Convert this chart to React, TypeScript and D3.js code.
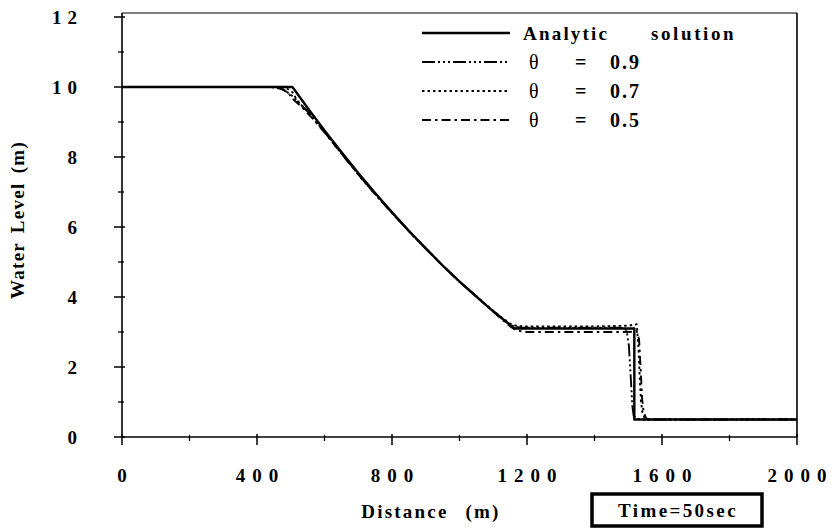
import React from "react";
import * as d3 from "d3";

const W = 834;
const H = 528;

// Analytic solution (distance m, water level m)
const analyticX = [0, 505, 550, 600, 650, 700, 750, 800, 850, 900, 950, 1000, 1050, 1100, 1150, 1163, 1518, 1518, 2000];
const analyticY = [10, 10, 9.4, 8.76, 8.14, 7.54, 6.97, 6.42, 5.89, 5.39, 4.9, 4.44, 4.01, 3.59, 3.2, 3.1, 3.1, 0.5, 0.5];

// theta = 0.9
const theta09X = [0, 440, 470, 490, 510, 530, 560, 600, 650, 700, 750, 800, 850, 900, 950, 1000, 1050, 1100, 1140, 1160, 1180, 1220, 1300, 1400, 1480, 1495, 1502, 1508, 1512, 1516, 1522, 1535, 2000];
const theta09Y = [10, 10, 9.95, 9.85, 9.7, 9.5, 9.2, 8.72, 8.1, 7.5, 6.94, 6.4, 5.88, 5.38, 4.9, 4.44, 4.02, 3.6, 3.28, 3.16, 3.12, 3.12, 3.12, 3.12, 3.12, 3.05, 2.6, 1.6, 0.9, 0.6, 0.55, 0.5, 0.5];

// theta = 0.7
const theta07X = [0, 470, 490, 505, 520, 550, 600, 650, 700, 750, 800, 850, 900, 950, 1000, 1050, 1100, 1150, 1170, 1200, 1300, 1400, 1500, 1525, 1530, 1534, 1538, 1542, 1548, 1556, 2000];
const theta07Y = [10, 10, 9.95, 9.85, 9.6, 9.3, 8.72, 8.12, 7.52, 6.95, 6.41, 5.89, 5.39, 4.9, 4.45, 4.02, 3.6, 3.24, 3.17, 3.16, 3.16, 3.16, 3.18, 3.22, 2.6, 1.7, 1.0, 0.7, 0.55, 0.5, 0.5];

// theta = 0.5
const theta05X = [0, 460, 480, 495, 510, 530, 560, 600, 650, 700, 750, 800, 850, 900, 950, 1000, 1050, 1100, 1150, 1170, 1200, 1300, 1400, 1500, 1525, 1532, 1537, 1541, 1545, 1552, 1560, 2000];
const theta05Y = [10, 10, 9.92, 9.8, 9.62, 9.45, 9.15, 8.7, 8.1, 7.5, 6.93, 6.4, 5.88, 5.38, 4.9, 4.44, 4.01, 3.58, 3.16, 3.04, 3.0, 3.0, 3.0, 3.0, 3.02, 2.8, 1.9, 1.1, 0.75, 0.55, 0.5, 0.5];

const xMajor = [0, 400, 800, 1200, 1600, 2000];
const xMajorLabels = ["0", "400", "800", "1200", "1600", "2000"];
const xMinor = [200, 600, 1000, 1400, 1800];
const yMajor = [0, 2, 4, 6, 8, 10, 12];
const yMajorLabels = ["0", "2", "4", "6", "8", "10", "12"];
const yMinor = [1, 3, 5, 7, 9, 11];

const legendNames = ["Analytic", "0.9", "0.7", "0.5"];

const FONT = "'Liberation Serif', 'Times New Roman', serif";

export default function App() {
  const x = d3.scaleLinear().domain([0, 2000]).range([122, 797]);
  const y = d3.scaleLinear().domain([0, 12]).range([437, 17]);

  const line = d3
    .line<[number, number]>()
    .x((d) => x(d[0]))
    .y((d) => y(d[1]));

  const zip = (a: number[], b: number[]) => a.map((v, i) => [v, b[i]] as [number, number]);

  const series = [
    { xs: analyticX, ys: analyticY, dash: "none", w: 2.4 },
    { xs: theta09X, ys: theta09Y, dash: "13,3,2,3,2,3,2,3", w: 1.9 },
    { xs: theta07X, ys: theta07Y, dash: "2.5,3", w: 1.9 },
    { xs: theta05X, ys: theta05Y, dash: "9,4,2.5,4", w: 1.9 },
  ];

  const legendY = [33, 62, 91, 120];
  const tickLS = 7;

  return (
    <svg
      width={W}
      height={H}
      style={{ position: "absolute", left: 0, top: 0, background: "#fff" }}
      fontFamily={FONT}
      fontWeight="bold"
    >
      <rect x={0} y={0} width={W} height={H} fill="#fff" />
      {/* frame */}
      <line x1={x(0)} x2={x(2000)} y1={13} y2={13} stroke="#000" strokeWidth={1.2} />
      <line x1={x(2000)} x2={x(2000)} y1={13} y2={y(0)} stroke="#000" strokeWidth={1.6} />
      <line x1={x(0)} x2={x(0)} y1={13} y2={y(0)} stroke="#000" strokeWidth={1.6} />
      <line x1={x(0)} x2={x(2000)} y1={y(0)} y2={y(0)} stroke="#000" strokeWidth={1.6} />

      {/* y ticks */}
      {yMajor.map((v, i) => (
        <g key={"ym" + v}>
          <line x1={x(0) - 8} x2={x(0) + 3} y1={y(v)} y2={y(v)} stroke="#000" strokeWidth={1.5} />
          <text x={77 + 6} y={y(v)} dy="0.35em" textAnchor="end" fontSize={19} letterSpacing={6}>
            {yMajorLabels[i]}
          </text>
        </g>
      ))}
      {yMinor.map((v) => (
        <line key={"yn" + v} x1={x(0) - 4} x2={x(0) + 2} y1={y(v)} y2={y(v)} stroke="#000" strokeWidth={1.3} />
      ))}

      {/* x ticks */}
      {xMajor.map((v, i) => (
        <g key={"xm" + v}>
          <line x1={x(v)} x2={x(v)} y1={y(0) - 3} y2={y(0) + 8} stroke="#000" strokeWidth={1.5} />
          <text x={x(v) + tickLS / 2} y={482} textAnchor="middle" fontSize={19} letterSpacing={tickLS}>
            {xMajorLabels[i]}
          </text>
        </g>
      ))}
      {xMinor.map((v) => (
        <line key={"xn" + v} x1={x(v)} x2={x(v)} y1={y(0) - 2} y2={y(0) + 4} stroke="#000" strokeWidth={1.3} />
      ))}

      {/* series */}
      {series.map((s, i) => (
        <path
          key={"s" + i}
          d={line(zip(s.xs, s.ys)) || ""}
          fill="none"
          stroke="#000"
          strokeWidth={s.w}
          strokeDasharray={s.dash}
          strokeLinejoin="round"
        />
      ))}

      {/* legend */}
      {series.map((s, i) => (
        <line
          key={"ll" + i}
          x1={422}
          x2={510}
          y1={legendY[i]}
          y2={legendY[i]}
          stroke="#000"
          strokeWidth={s.w}
          strokeDasharray={s.dash}
        />
      ))}
      <text x={523} y={legendY[0]} dy="0.35em" fontSize={19} letterSpacing={2.2}>
        {legendNames[0]}
      </text>
      <text x={651} y={legendY[0]} dy="0.35em" fontSize={19} letterSpacing={2.6}>
        solution
      </text>
      {[1, 2, 3].map((i) => (
        <g key={"lt" + i}>
          <text x={529} y={legendY[i]} dy="0.35em" fontSize={20} fontWeight="normal">
            θ
          </text>
          <text x={575} y={legendY[i]} dy="0.35em" fontSize={20}>
            =
          </text>
          <text x={610} y={legendY[i]} dy="0.35em" fontSize={20} letterSpacing={2}>
            {legendNames[i]}
          </text>
        </g>
      ))}

      {/* axis titles */}
      <text
        transform={`translate(24, ${y(6.2)}) rotate(-90)`}
        textAnchor="middle"
        fontSize={19}
        letterSpacing={1.3}
        wordSpacing={3}
      >
        Water Level (m)
      </text>
      <text x={431} y={518} textAnchor="middle" fontSize={19} letterSpacing={2.2} wordSpacing={10}>
        Distance (m)
      </text>

      {/* time box */}
      <rect x={592} y={494} width={170} height={32} fill="none" stroke="#000" strokeWidth={3.5} />
      <text x={678} y={517} textAnchor="middle" fontSize={19} letterSpacing={2.4}>
        Time=50sec
      </text>
    </svg>
  );
}
